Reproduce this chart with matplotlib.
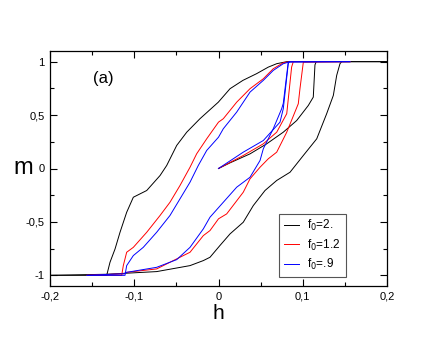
import matplotlib
matplotlib.use("Agg")
import matplotlib.pyplot as plt
from matplotlib.ticker import MultipleLocator, FuncFormatter

plt.rcParams['font.family'] = ['Liberation Sans', 'DejaVu Sans']

labels = ["f$_0$=2.", "f$_0$=1.2", "f$_0$=.9"]
colors = ["black", "red", "blue"]

# f0 = 2.  (black)
black_desc_h = [0.2, 0.081, 0.0691, 0.0591, 0.0453, 0.029, 0.0137, -0.0002, -0.022, -0.0377,
                -0.0496, -0.0615, -0.0694, -0.0852, -0.1011, -0.109, -0.1169, -0.1228, -0.1288, -0.1327, -0.2]
black_desc_m = [1.0, 1.0, 0.981, 0.949, 0.888, 0.825, 0.747, 0.621, 0.466, 0.34,
                0.216, 0.028, -0.066, -0.206, -0.269, -0.41, -0.597, -0.753, -0.878, -1.0, -1.0]
black_asc_h = [-0.2, -0.1327, -0.0734, -0.0338, -0.018, -0.0101, 0.0018, 0.0137, 0.0294, 0.0413,
               0.0552, 0.0691, 0.0849, 0.1007, 0.1166, 0.1284, 0.1363, 0.1403, 0.1442, 0.1462, 0.2]
black_asc_m = [-1.0, -0.99, -0.965, -0.909, -0.862, -0.831, -0.72, -0.612, -0.503, -0.347,
               -0.206, -0.112, -0.035, 0.122, 0.278, 0.513, 0.684, 0.872, 0.981, 1.0, 1.0]
black_init_h = [0.0, 0.0137, 0.0374, 0.0572, 0.0769, 0.0928, 0.1066, 0.1125, 0.1145, 0.116]
black_init_m = [0.0, 0.053, 0.137, 0.231, 0.34, 0.449, 0.59, 0.668, 0.97, 1.0]

# f0 = 1.2  (red)
red_desc_h = [0.156, 0.085, 0.0769, 0.065, 0.0532, 0.0374, 0.0216, 0.0057, 0.0, -0.014, -0.0259,
              -0.0338, -0.0457, -0.0576, -0.0694, -0.0852, -0.1011, -0.109, -0.113, -0.1149, -0.156]
red_desc_m = [1.0, 1.0, 0.99, 0.934, 0.84, 0.747, 0.621, 0.466, 0.434, 0.278, 0.138,
              0.012, -0.159, -0.316, -0.44, -0.597, -0.738, -0.784, -0.909, -1.0, -1.0]
red_asc_h = [-0.156, -0.112, -0.109, -0.0734, -0.0496, -0.0338, -0.018, -0.0101, 0.0, 0.0097, 0.0294,
             0.0374, 0.0493, 0.0591, 0.0691, 0.081, 0.0947, 0.0967, 0.1007, 0.156]
red_asc_m = [-1.0, -0.985, -0.972, -0.94, -0.846, -0.784, -0.628, -0.581, -0.471, -0.425, -0.222,
             -0.097, 0.012, 0.091, 0.153, 0.34, 0.606, 0.747, 0.996, 1.0]
red_init_h = [0.0, 0.0294, 0.0532, 0.0691, 0.081, 0.0868, 0.0888]
red_init_m = [0.0, 0.122, 0.231, 0.34, 0.513, 0.95, 1.0]

# f0 = .9  (blue)
blue_desc_h = [0.156, 0.085, 0.0769, 0.065, 0.0532, 0.0374, 0.0216, 0.0057, 0.0, -0.014, -0.024,
               -0.0338, -0.0457, -0.0576, -0.0734, -0.0893, -0.1011, -0.109, -0.111, -0.156]
blue_desc_m = [1.0, 1.0, 0.981, 0.918, 0.825, 0.715, 0.528, 0.372, 0.293, 0.169, 0.028,
               -0.128, -0.284, -0.44, -0.597, -0.738, -0.815, -0.909, -1.0, -1.0]
blue_asc_h = [-0.156, -0.112, -0.109, -0.0734, -0.0496, -0.0338, -0.018, -0.0101, 0.0057, 0.0216,
              0.0374, 0.0493, 0.0532, 0.065, 0.075, 0.0769, 0.0828, 0.156]
blue_asc_m = [-1.0, -0.985, -0.972, -0.925, -0.853, -0.738, -0.565, -0.456, -0.316, -0.175,
              -0.082, 0.075, 0.185, 0.372, 0.56, 0.61, 0.996, 1.0]
blue_init_h = [0.0, 0.0294, 0.0532, 0.073, 0.0769, 0.0828, 0.084]
blue_init_m = [0.0, 0.153, 0.262, 0.434, 0.56, 0.981, 1.0]

series = [
    (black_desc_h, black_desc_m, black_asc_h, black_asc_m, black_init_h, black_init_m),
    (red_desc_h, red_desc_m, red_asc_h, red_asc_m, red_init_h, red_init_m),
    (blue_desc_h, blue_desc_m, blue_asc_h, blue_asc_m, blue_init_h, blue_init_m),
]

fig = plt.figure(figsize=(4.36, 3.37), dpi=100)
ax = fig.add_axes([0.1147, 0.1513, 0.7729, 0.6974])

for (dh, dm, ah, am, ih, im), c, lab in zip(series, colors, labels):
    ax.plot(dh, dm, color=c, lw=0.7, label=lab)
    ax.plot(ah, am, color=c, lw=0.7)
    ax.plot(ih, im, color=c, lw=0.7)

ax.set_xlim(-0.2, 0.2)
ax.set_ylim(-1.1, 1.1)
ax.xaxis.set_major_locator(MultipleLocator(0.1))
ax.xaxis.set_minor_locator(MultipleLocator(0.05))
ax.yaxis.set_major_locator(MultipleLocator(0.5))
ax.yaxis.set_minor_locator(MultipleLocator(0.25))

def fmt(v, pos):
    s = ("%g" % round(v, 3))
    if s == "-0":
        s = "0"
    return s.replace(".", ",")

ax.xaxis.set_major_formatter(FuncFormatter(fmt))
ax.yaxis.set_major_formatter(FuncFormatter(fmt))
ax.tick_params(which='both', direction='in', top=True, right=True, labelsize=8, width=0.8)
ax.tick_params(which='major', length=5, pad=4)
ax.tick_params(which='minor', length=3)
for s in ax.spines.values():
    s.set_linewidth(0.9)

ax.set_xlabel("h", fontsize=15, labelpad=2)
fig.text(23 / 436, 1 - 168 / 337, "m", fontsize=17, ha='center', va='center')
ax.text(-0.137, 0.84, "(a)", fontsize=12, ha='center', va='center')

leg = ax.legend(loc='lower right', bbox_to_anchor=(0.895, 0.015), fontsize=8.5, handlelength=1.3,
                handletextpad=0.7, labelspacing=0.35, borderpad=0.4, fancybox=False,
                framealpha=1, edgecolor='#555555')
leg.get_frame().set_linewidth(0.8)

fig.savefig("out.png", dpi=100)
